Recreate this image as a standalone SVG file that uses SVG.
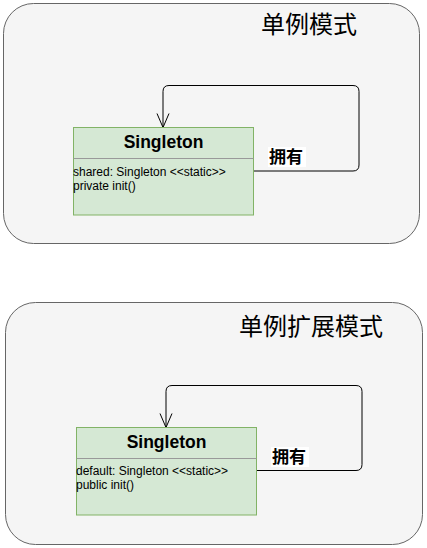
<svg xmlns="http://www.w3.org/2000/svg" width="427" height="548" viewBox="0 0 427 548">
<style>
.cont{fill:#f5f5f5;stroke:#666666;stroke-width:1}
.title{font-family:"Noto Sans CJK SC","Liberation Sans",sans-serif;font-size:24px;fill:#000;text-anchor:middle}
.cls{fill:#d5e8d4;stroke:#82b366;stroke-width:1}
.div{stroke:#999999;stroke-width:1}
.cname{font-family:"Liberation Sans",Arial,sans-serif;font-size:17.5px;font-weight:bold;text-anchor:middle;fill:#000}
.attr{font-family:"Liberation Sans",Arial,sans-serif;font-size:12px;fill:#000}
.edge{fill:none;stroke:#000;stroke-width:1}
.lbl{font-family:"Noto Sans CJK SC","Liberation Sans",sans-serif;font-size:17px;font-weight:bold;fill:#000}
</style>
<defs>
<marker id="open" markerWidth="16" markerHeight="16" refX="15" refY="7" orient="auto" markerUnits="userSpaceOnUse" viewBox="0 0 16 14">
<path d="M1,1 L15,7 L1,13" fill="none" stroke="#000" stroke-width="1"/>
</marker>
</defs>
<g id="container1">
<rect class="cont" x="3.5" y="3.5" width="416" height="240" rx="30" ry="30"/>
<text class="title" x="309" y="33">单例模式</text>
</g>
<g id="container2">
<rect class="cont" x="5.5" y="302.5" width="417" height="242" rx="30" ry="30"/>
<text class="title" x="311" y="335">单例扩展模式</text>
</g>
<g id="connectors">
<path class="edge" d="M253,171 H353 Q359,171 359,165 V91.5 Q359,85.5 353,85.5 H169 Q163,85.5 163,91.5 V127.5" marker-end="url(#open)"/>
<path class="edge" d="M257,470.5 H356 Q362,470.5 362,464.5 V391.5 Q362,385.5 356,385.5 H172 Q166,385.5 166,391.5 V427.5" marker-end="url(#open)"/>
<rect x="268" y="147" width="38" height="20" fill="#ffffff"/>
<text class="lbl" x="269" y="163">拥有</text>
<rect x="271" y="447" width="38" height="20" fill="#ffffff"/>
<text class="lbl" x="272" y="463">拥有</text>
</g>
<g id="singleton1">
<rect class="cls" x="73.5" y="127.5" width="180" height="87.5"/>
<line class="div" x1="73.5" y1="158.5" x2="253.5" y2="158.5"/>
<text class="cname" x="163.5" y="148">Singleton</text>
<text class="attr" x="73" y="176">shared: Singleton &lt;&lt;static&gt;&gt;</text>
<text class="attr" x="73" y="190">private init()</text>
</g>
<g id="singleton2">
<rect class="cls" x="76.5" y="427.5" width="180" height="87.5"/>
<line class="div" x1="76.5" y1="458.5" x2="256.5" y2="458.5"/>
<text class="cname" x="166.5" y="448">Singleton</text>
<text class="attr" x="76" y="475">default: Singleton &lt;&lt;static&gt;&gt;</text>
<text class="attr" x="76" y="489">public init()</text>
</g>
</svg>
